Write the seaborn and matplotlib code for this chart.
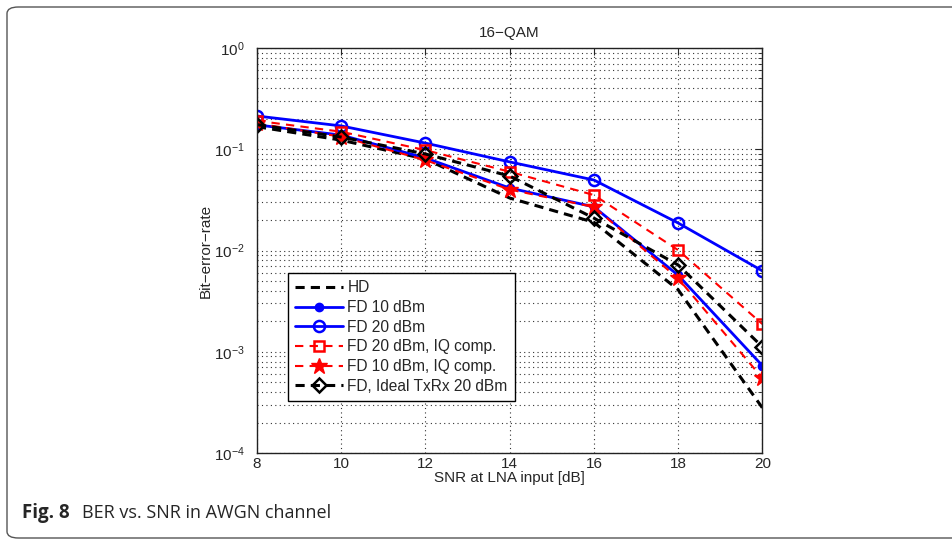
import matplotlib
matplotlib.use("Agg")
import matplotlib.pyplot as plt
from matplotlib.patches import FancyBboxPatch
from matplotlib.ticker import LogLocator, NullFormatter
import seaborn as sns
import pandas as pd

# SNR at LNA input [dB]
snr = [8, 10, 12, 14, 16, 18, 20]

# bit error rate
ber_hd = [0.167, 0.123, 0.080, 0.033, 0.019, 0.0041, 0.00028]
ber_fd10 = [0.174, 0.138, 0.082, 0.0414, 0.027, 0.0057, 0.00073]
ber_fd20 = [0.213, 0.170, 0.115, 0.075, 0.0497, 0.0187, 0.0063]
ber_fd20_iq = [0.191, 0.149, 0.098, 0.060, 0.0353, 0.0101, 0.00188]
ber_fd10_iq = [0.180, 0.133, 0.078, 0.040, 0.0269, 0.0053, 0.00055]
ber_ideal = [0.175, 0.132, 0.0898, 0.0544, 0.0209, 0.0072, 0.00112]

labels = ["HD", "FD 10 dBm", "FD 20 dBm", "FD 20 dBm, IQ comp.",
          "FD 10 dBm, IQ comp.", "FD, Ideal TxRx 20 dBm"]

sns.set_style("white")
plt.rcParams["font.family"] = ["Liberation Sans", "DejaVu Sans"]

fig = plt.figure(figsize=(9.53, 5.4), dpi=100)
ax = fig.add_axes([0.2697, 0.1611, 0.5302, 0.75])

# one style per series: color, linestyle, marker, marker size, fill, line width
styles = [
    ("black", (0, (3, 2)), None, 0, True, 2.2),
    ("#0000ff", "-", "o", 6, True, 2.0),
    ("#0000ff", "-", "o", 8, False, 2.0),
    ("#ff0000", (0, (4, 3)), "s", 7, False, 1.5),
    ("#ff0000", (0, (4, 3)), "*", 12, True, 1.5),
    ("black", (0, (3, 2)), "D", 7, False, 2.2),
]
series = [ber_hd, ber_fd10, ber_fd20, ber_fd20_iq, ber_fd10_iq, ber_ideal]

for lab, vals, (col, ls, mk, ms, filled, lw) in zip(labels, series, styles):
    df = pd.DataFrame({"snr": snr, "ber": vals})
    sns.lineplot(data=df, x="snr", y="ber", ax=ax, color=col, linestyle=ls,
                 marker=mk, markersize=ms, linewidth=lw, label=lab,
                 markerfacecolor=col if filled else "none",
                 markeredgecolor=col, markeredgewidth=1.8 if not filled else 1.0)

ax.set_yscale("log")
ax.set_xlim(8, 20)
ax.set_ylim(1e-4, 1)
ax.set_xticks([8, 10, 12, 14, 16, 18, 20])
ax.yaxis.set_minor_locator(LogLocator(base=10, subs=range(2, 10)))
ax.yaxis.set_minor_formatter(NullFormatter())

ax.grid(True, which="major", axis="both", linestyle=(0, (1, 3)), color="#333333", linewidth=0.8)
ax.grid(True, which="minor", axis="y", linestyle=(0, (1, 3)), color="#333333", linewidth=0.8)

ax.tick_params(which="both", direction="in", top=True, right=True, labelsize=11)
ax.tick_params(which="major", length=5)
ax.tick_params(which="minor", length=3)
ax.tick_params(axis="x", pad=3)
ax.tick_params(axis="y", pad=9)
for s in ax.spines.values():
    s.set_color("#222222")
    s.set_linewidth(1.0)

ax.set_title("16\u2212QAM", fontsize=11, pad=8)
ax.set_xlabel("SNR at LNA input [dB]", fontsize=11, labelpad=0)
ax.set_ylabel("Bit\u2212error\u2212rate", fontsize=11, labelpad=1)

leg = ax.legend(loc="lower left", bbox_to_anchor=(0.045, 0.11), fontsize=11.2,
                frameon=True, fancybox=False, edgecolor="black", framealpha=1,
                handlelength=3.1, labelspacing=0.3, borderpad=0.45,
                handletextpad=0.3)
leg.get_frame().set_linewidth(1.0)

# outer rounded frame and caption
frame = FancyBboxPatch((7 / 953, 2 / 540), 960 / 953, 531 / 540,
                       boxstyle="round,pad=0,rounding_size=0.012",
                       transform=fig.transFigure, fill=False,
                       edgecolor="#555555", linewidth=1.0, clip_on=False)
fig.patches.append(frame)
fig.text(22 / 953, 1 - 513 / 540, "Fig. 8", fontsize=13.5, fontweight="bold",
         family=["Open Sans", "DejaVu Sans"], va="center")
fig.text(82 / 953, 1 - 513 / 540, "BER vs. SNR in AWGN channel", fontsize=13,
         family=["Open Sans", "DejaVu Sans"], va="center")

fig.savefig("out.png", dpi=100)
